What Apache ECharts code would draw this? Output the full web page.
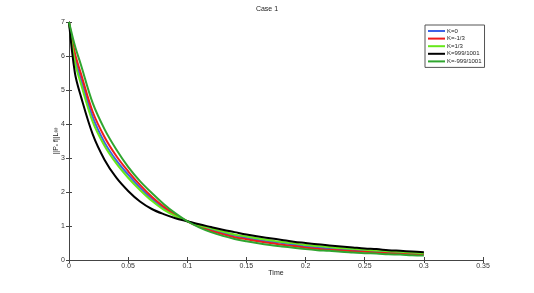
<!DOCTYPE html>
<html>
<head>
<meta charset="utf-8">
<script src="https://cdn.jsdelivr.net/npm/echarts@6/dist/echarts.min.js"></script>
<style>html,body{margin:0;padding:0;background:#fff}#c{width:534px;height:293px}</style>
</head>
<body>
<div id="c"></div>
<script>
var times = [0, 0.005, 0.01, 0.02, 0.03, 0.04, 0.05, 0.06, 0.07, 0.08, 0.09, 0.10, 0.11, 0.12, 0.13, 0.14, 0.15, 0.16, 0.17, 0.18, 0.19, 0.20, 0.21, 0.22, 0.23, 0.24, 0.25, 0.26, 0.27, 0.28, 0.29, 0.30];
var seriesNames = ['K=0', 'K=-1/3', 'K=1/3', 'K=999/1001', 'K=-999/1001'];
var kZero = [7, 5.94, 5.33, 4.21, 3.46, 2.93, 2.51, 2.13, 1.80, 1.52, 1.30, 1.14, 1.00, 0.90, 0.80, 0.72, 0.65, 0.59, 0.54, 0.50, 0.45, 0.40, 0.37, 0.34, 0.31, 0.29, 0.27, 0.25, 0.23, 0.21, 0.19, 0.18];
var kMinusThird = [7, 6.08, 5.49, 4.36, 3.62, 3.06, 2.61, 2.21, 1.86, 1.57, 1.33, 1.14, 0.98, 0.86, 0.76, 0.67, 0.61, 0.55, 0.50, 0.45, 0.41, 0.36, 0.33, 0.30, 0.28, 0.26, 0.24, 0.22, 0.20, 0.19, 0.17, 0.16];
var kThird = [7, 5.82, 5.19, 4.07, 3.36, 2.84, 2.42, 2.06, 1.74, 1.48, 1.29, 1.14, 1.02, 0.93, 0.84, 0.75, 0.69, 0.63, 0.58, 0.53, 0.49, 0.44, 0.41, 0.38, 0.35, 0.33, 0.30, 0.28, 0.26, 0.24, 0.22, 0.20];
var kNearOne = [7, 5.5, 4.82, 3.70, 2.95, 2.42, 2.03, 1.72, 1.50, 1.35, 1.23, 1.14, 1.05, 0.97, 0.89, 0.82, 0.75, 0.69, 0.64, 0.59, 0.54, 0.50, 0.46, 0.43, 0.40, 0.37, 0.34, 0.32, 0.29, 0.27, 0.25, 0.23];
var kNearMinusOne = [7, 6.3, 5.75, 4.62, 3.85, 3.25, 2.74, 2.32, 1.97, 1.65, 1.37, 1.14, 0.96, 0.82, 0.71, 0.62, 0.55, 0.49, 0.44, 0.40, 0.36, 0.32, 0.29, 0.27, 0.24, 0.22, 0.20, 0.19, 0.17, 0.16, 0.14, 0.13];
var xTicks = ['0', '0.05', '0.1', '0.15', '0.2', '0.25', '0.3', '0.35'];

var allValues = [kZero, kMinusThird, kThird, kNearOne, kNearMinusOne];
var colors = ['#3c62e6', '#ee1c1c', '#66e81a', '#000000', '#2fa62f'];

function pairs(vals) {
  return times.map(function (t, i) { return [t, vals[i]]; });
}

var axisCol = '#444';
var lblStyle = { color: '#333', fontSize: 7, fontFamily: 'Liberation Sans, Arial, sans-serif' };

var chart = echarts.init(document.getElementById('c'), null, { renderer: 'canvas' });
var option = {
  animation: false,
  backgroundColor: '#fff',
  title: {
    text: 'Case 1', left: 'center', top: 1,
    textStyle: { fontSize: 7, fontWeight: 'normal', color: '#222', fontFamily: 'Liberation Sans, Arial, sans-serif' }
  },
  legend: {
    orient: 'vertical', left: 425, top: 25, width: 58,
    itemWidth: 17, itemHeight: 2, itemGap: 1.6,
    icon: 'rect', padding: [3, 3, 3, 3],
    backgroundColor: '#fff', borderColor: '#555', borderWidth: 1,
    textStyle: { fontSize: 6, color: '#222', padding: [0, 0, 0, -3], fontFamily: 'Liberation Sans, Arial, sans-serif' },
    data: seriesNames
  },
  grid: { left: 69, right: 51, top: 22, bottom: 33, containLabel: false },
  xAxis: [{
    type: 'value', min: 0, max: 0.35, interval: 0.05,
    name: 'Time', nameLocation: 'middle', nameGap: 10, nameMoveOverlap: false,
    nameTextStyle: { fontSize: 7, color: '#222', fontFamily: 'Liberation Sans, Arial, sans-serif' },
    axisLine: { show: true, lineStyle: { color: axisCol, width: 1 } },
    axisTick: { show: true, inside: true, length: 3, lineStyle: { color: axisCol } },
    axisLabel: Object.assign({ margin: 3, formatter: function (v, i) { return xTicks[i]; } }, lblStyle),
    splitLine: { show: false }
  }, {
    type: 'value', min: 0, max: 0.35, interval: 0.05, position: 'top',
    axisLine: { show: true, lineStyle: { color: axisCol, width: 1 } },
    axisTick: { show: true, inside: true, length: 3, lineStyle: { color: axisCol } },
    axisLabel: { show: false }, splitLine: { show: false }
  }],
  yAxis: [{
    type: 'value', min: 0, max: 7, interval: 1,
    name: '||P\u2093 f||L\u221E', nameLocation: 'middle', nameGap: 9, nameRotate: 90, nameMoveOverlap: false,
    nameTextStyle: { fontSize: 7, color: '#222', fontFamily: 'Liberation Sans, Arial, sans-serif' },
    axisLine: { show: true, lineStyle: { color: axisCol, width: 1 } },
    axisTick: { show: true, inside: true, length: 3, lineStyle: { color: axisCol } },
    axisLabel: Object.assign({ margin: 4 }, lblStyle),
    splitLine: { show: false }
  }, {
    type: 'value', min: 0, max: 7, interval: 1, position: 'right',
    axisLine: { show: true, lineStyle: { color: axisCol, width: 1 } },
    axisTick: { show: true, inside: true, length: 3, lineStyle: { color: axisCol } },
    axisLabel: { show: false }, splitLine: { show: false }
  }],
  series: seriesNames.map(function (n, i) {
    return {
      name: n, type: 'line', xAxisIndex: 0, yAxisIndex: 0,
      data: pairs(allValues[i]),
      smooth: 0.35,
      showSymbol: false, symbol: 'none',
      lineStyle: { color: colors[i], width: 2 },
      itemStyle: { color: colors[i] }
    };
  })
};
chart.setOption(option);
</script>
</body>
</html>
